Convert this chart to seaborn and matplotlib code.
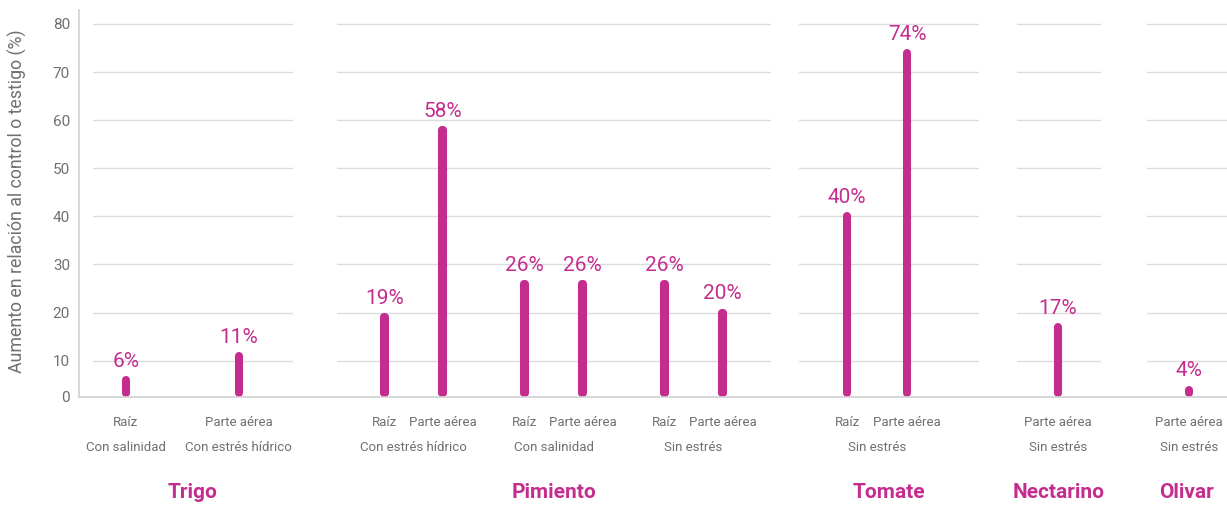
import pandas as pd
import matplotlib.pyplot as plt
import seaborn as sns
from matplotlib.lines import Line2D

# data, one entry per bar
crops = ['Trigo', 'Trigo',
         'Pimiento', 'Pimiento', 'Pimiento', 'Pimiento', 'Pimiento', 'Pimiento',
         'Tomate', 'Tomate', 'Nectarino', 'Olivar']
conditions = ['Con salinidad', 'Con estrés hídrico',
              'Con estrés hídrico', 'Con estrés hídrico', 'Con salinidad', 'Con salinidad',
              'Sin estrés', 'Sin estrés',
              'Sin estrés', 'Sin estrés', 'Sin estrés', 'Sin estrés']
parts = ['Raíz', 'Parte aérea',
         'Raíz', 'Parte aérea', 'Raíz', 'Parte aérea', 'Raíz', 'Parte aérea',
         'Raíz', 'Parte aérea', 'Parte aérea', 'Parte aérea']
values = [6, 11, 19, 58, 26, 26, 26, 20, 40, 74, 17, 4]

crop_order = ['Trigo', 'Pimiento', 'Tomate', 'Nectarino', 'Olivar']
part_order = ['Raíz', 'Parte aérea']
yticks = [10, 20, 30, 40, 50, 60, 70, 80]
ylabel = 'Aumento en relación al control o testigo (%)'

df = pd.DataFrame({'crop': crops, 'condition': conditions,
                   'part': parts, 'value': values})

MAGENTA = '#C42D8D'
GRAY = '#707070'
GRID = '#dcdcdc'
AXIS = '#d2d2d2'

W, H = 1227, 507
AX_TOP, AX_BOTTOM = 10, 397
YLIM = (2.45, 82.9)

# panel extents in pixels and x limits in category units
layout = {
    'Trigo': ((93, 293), (-0.29, 1.48)),
    'Pimiento': ((337, 771), (-0.55, 2.555)),
    'Tomate': ((799, 979), (-0.54, 0.705)),
    'Nectarino': ((1017, 1101), (-0.41, 0.43)),
    'Olivar': ((1147, 1227), (-0.42, 0.38)),
}

sns.set_theme(style='white')
plt.rcParams['font.family'] = ['Roboto', 'DejaVu Sans']

fig = plt.figure(figsize=(W / 100, H / 100), dpi=100)
ax_h = AX_BOTTOM - AX_TOP
cap = 4 / (ax_h / (YLIM[1] - YLIM[0]))

for i, crop in enumerate(crop_order):
    (left, right), xlim = layout[crop]
    ax = fig.add_axes([left / W, 1 - AX_BOTTOM / H, (right - left) / W, ax_h / H])
    sub = df[df.crop == crop]
    cond_order = list(dict.fromkeys(sub.condition))
    dodge = bool(sub.groupby('condition').size().max() > 1)

    sns.barplot(sub, x='condition', y='value', hue='part', order=cond_order,
                hue_order=part_order, palette=[MAGENTA, MAGENTA], saturation=1,
                dodge=dodge, width=0.83, errorbar=None, legend=False, ax=ax)

    rows = sorted(sub.itertuples(),
                  key=lambda r: (cond_order.index(r.condition), part_order.index(r.part)))
    bars = sorted([p for p in ax.patches if p.get_height() == p.get_height()],
                  key=lambda p: p.get_x())
    thin = 0.002 * (xlim[1] - xlim[0])
    for p, row in zip(bars, rows):
        cx = p.get_x() + p.get_width() / 2
        h = p.get_height()
        # thin rounded stick instead of a wide bar
        p.set_x(cx - thin / 2)
        p.set_width(thin)
        p.set_y(YLIM[0] + cap)
        p.set_height(h - YLIM[0] - cap)
        p.set_edgecolor(MAGENTA)
        p.set_linewidth(5.8)
        p.set_joinstyle('round')
        p.set_capstyle('round')
        ax.annotate(f'{h:g}%', (cx, h), xytext=(0, 9.5), textcoords='offset points',
                    ha='center', va='baseline', color=MAGENTA, fontsize=15)
        ax.annotate(row.part, (cx, 0), xycoords=('data', 'axes fraction'),
                    xytext=(0, -26 * 0.72), textcoords='offset points',
                    ha='center', va='center', color=GRAY, fontsize=9.5)

    ax.set_xlim(xlim)
    ax.set_ylim(YLIM)
    ax.set_yticks([YLIM[0]] + yticks)
    ax.set_yticklabels(['0'] + [str(t) for t in yticks])
    ax.set_axisbelow(True)
    ax.yaxis.grid(True, color=GRID, linewidth=1)
    ax.tick_params(axis='x', length=0, pad=32, labelcolor=GRAY, labelsize=9.5)
    ax.tick_params(axis='y', length=0, pad=6.5, labelcolor=GRAY, labelsize=11)

    ax.set_xlabel(crop, fontsize=15, fontweight='bold', color=MAGENTA)
    ax.xaxis.set_label_coords(0.5, -95 / ax_h)
    ax.xaxis.label.set_va('center')

    sns.despine(ax=ax, left=(i > 0), bottom=True)
    if i == 0:
        ax.spines['left'].set_position(('outward', 14 * 0.72))
        ax.spines['left'].set_color(AXIS)
        ax.spines['left'].set_linewidth(1.2)
        ax.set_ylabel(ylabel, fontsize=12.8, color=GRAY)
        ax.yaxis.set_label_coords(-76 / (right - left), 0.506)
        ax.yaxis.label.set_va('center')
    else:
        ax.set_ylabel('')
        ax.tick_params(axis='y', labelleft=False)

fig.add_artist(Line2D([79 / W, 1], [1 - AX_BOTTOM / H] * 2,
                      transform=fig.transFigure, color=AXIS, linewidth=1.2))

fig.savefig('out.png', dpi=100)
